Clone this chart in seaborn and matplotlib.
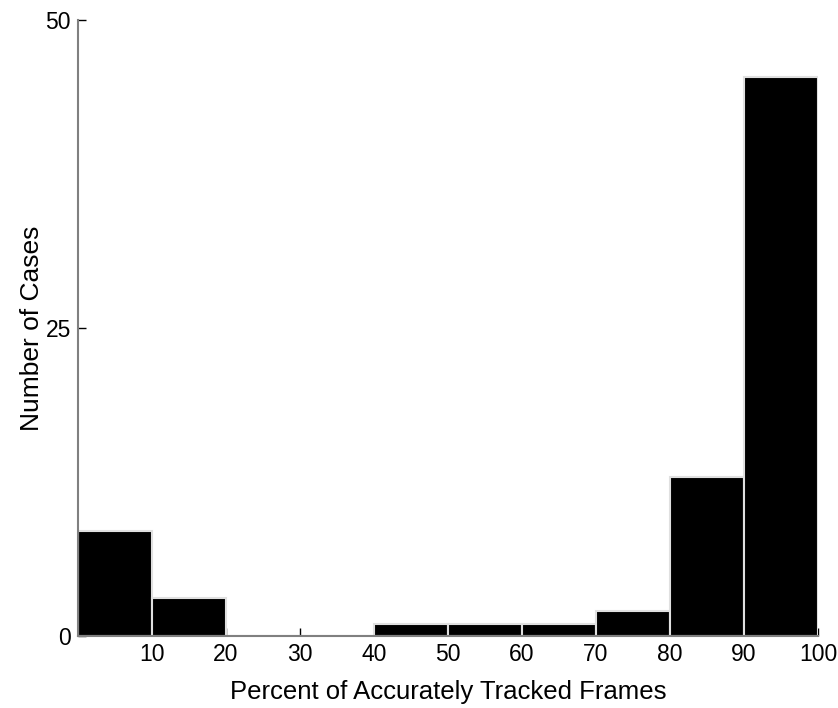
import numpy as np
import pandas as pd
import matplotlib
matplotlib.use("Agg")
import matplotlib.pyplot as plt
import seaborn as sns

# Histogram bins (percent) and bar heights
bin_edges = [0, 10, 20, 30, 40, 50, 60, 70, 80, 90, 100]
bin_centers = [5, 15, 25, 35, 45, 55, 65, 75, 85, 95]
case_counts = [8.55, 3.1, 0, 0, 0.95, 0.95, 0.95, 2.05, 12.9, 45.4]

x_ticks = [10, 20, 30, 40, 50, 60, 70, 80, 90, 100]
y_ticks = [0, 25, 50]

df = pd.DataFrame({'percent': bin_centers, 'cases': case_counts})

sns.set_style('white')
plt.rcParams['font.family'] = ['Liberation Sans', 'DejaVu Sans']
plt.rcParams['text.color'] = 'black'
plt.rcParams['axes.labelcolor'] = 'black'
plt.rcParams['xtick.color'] = 'black'
plt.rcParams['ytick.color'] = 'black'

fig = plt.figure(figsize=(8.38, 7.08), dpi=100)
ax = fig.add_axes([0.093, 0.1017, 0.883, 0.870])

sns.histplot(data=df, x='percent', weights='cases', bins=bin_edges,
             color='black', edgecolor='#e0e0e0', linewidth=1.5, alpha=1,
             ax=ax)

ax.set_xlim(0, 100)
ax.set_ylim(0, 50)
ax.set_xticks(x_ticks)
ax.set_yticks(y_ticks)
ax.tick_params(direction='in', length=6, width=1, color='black',
               labelsize=16.5, pad=5, bottom=True, left=True)

for side in ['top', 'right']:
    ax.spines[side].set_visible(False)
for side in ['left', 'bottom']:
    ax.spines[side].set_color('#808080')
    ax.spines[side].set_linewidth(1.5)

ax.set_xlabel('Percent of Accurately Tracked Frames', fontsize=18.5, labelpad=10)
ax.set_ylabel('Number of Cases', fontsize=19, labelpad=1)

plt.savefig('out.png', dpi=100)
